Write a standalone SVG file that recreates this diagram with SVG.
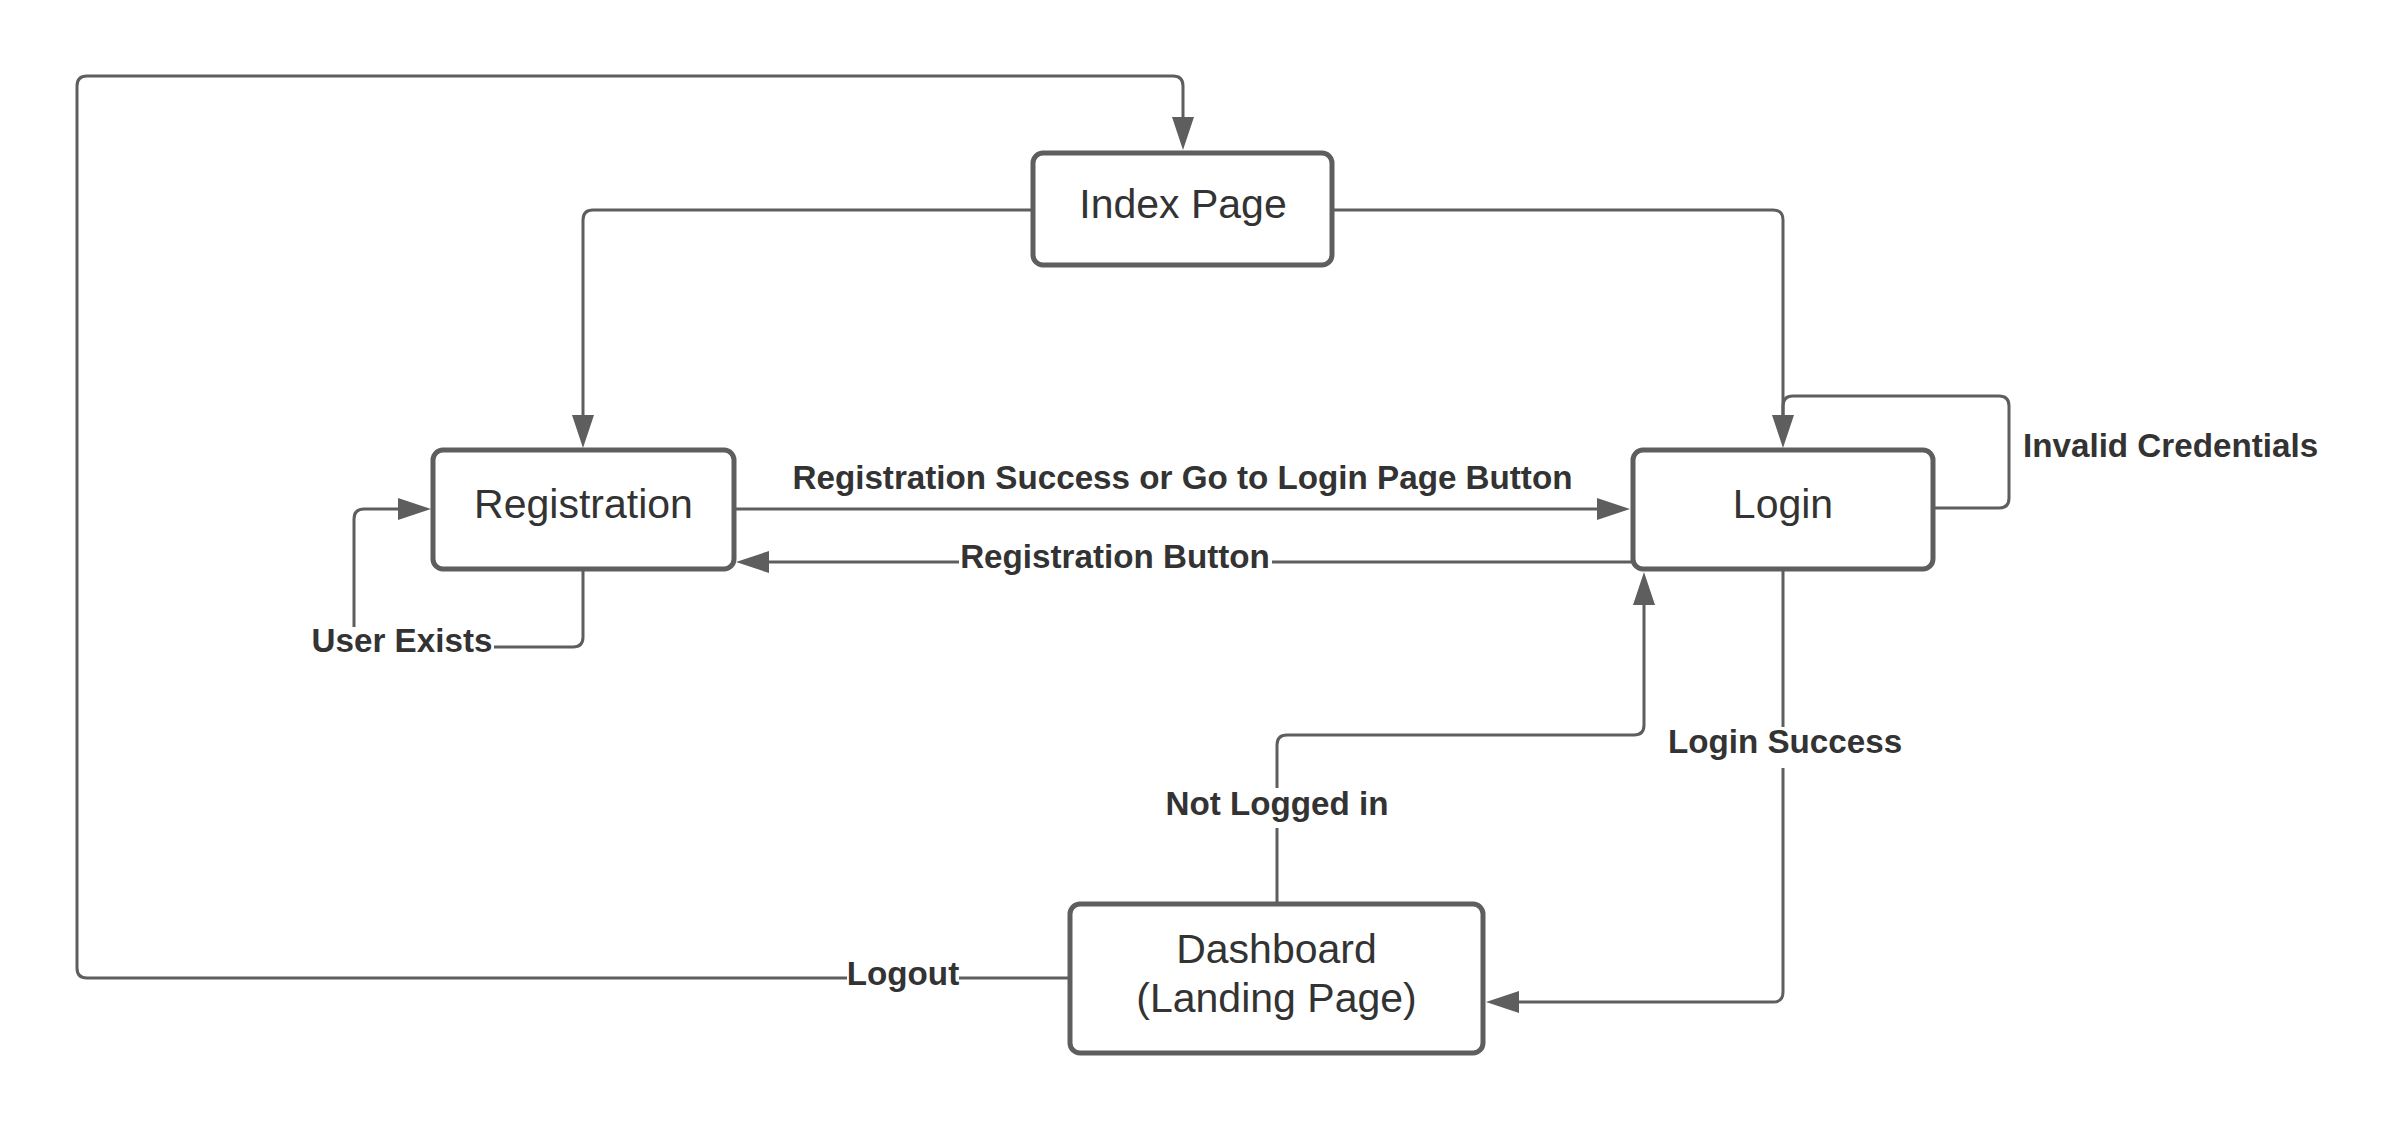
<svg xmlns="http://www.w3.org/2000/svg" width="2396" height="1131" viewBox="0 0 2396 1131">
<style>
.node rect{fill:#ffffff;stroke:#5e5e5e;stroke-width:5}
.node text{font-family:"Liberation Sans",Arial,sans-serif;font-size:41px;fill:#333333;text-anchor:middle}
.conn path{fill:none;stroke:#5e5e5e;stroke-width:3;marker-end:url(#arr)}
.conn path.noarr{marker-end:none}
.lbl{font-family:"Liberation Sans",Arial,sans-serif;font-size:33.2px;font-weight:bold;fill:#333333}
.bg{fill:#ffffff}
</style>
<defs>
<marker id="arr" markerUnits="userSpaceOnUse" markerWidth="34" markerHeight="24" viewBox="0 0 34 24" refX="2" refY="12" orient="auto">
<path d="M0,1 L33,12 L0,23 z" fill="#5e5e5e"/>
</marker>
</defs>
<rect width="2396" height="1131" fill="#ffffff"/>
<g id="connectors" class="conn">
<path d="M1070,978 H87 Q77,978 77,968 V86 Q77,76 87,76 H1173 Q1183,76 1183,86 V119"/>
<path d="M1033,210 H593 Q583,210 583,220 V417"/>
<path d="M1332,210 H1773 Q1783,210 1783,220 V417"/>
<path class="noarr" d="M1933,508 H1999 Q2009,508 2009,498 V406 Q2009,396 1999,396 H1793 Q1783,396 1783,406 V417"/>
<path d="M734,509 H1599"/>
<path d="M1633,562 H767"/>
<path d="M583,569 V637 Q583,647 573,647 H364 Q354,647 354,637 V519 Q354,509 364,509 H400"/>
<path d="M1783,569 V992 Q1783,1002 1773,1002 H1517"/>
<path d="M1277,904 V745 Q1277,735 1287,735 H1634 Q1644,735 1644,725 V603"/>
<rect class="bg" x="847" y="958" width="112" height="40"/>
<text class="lbl" x="903" y="985" text-anchor="middle">Logout</text>
<text class="lbl" x="2023" y="457">Invalid Credentials</text>
<text class="lbl" x="1182.5" y="489" text-anchor="middle">Registration Success or Go to Login Page Button</text>
<rect class="bg" x="959" y="542" width="313" height="40"/>
<text class="lbl" x="1115" y="568" text-anchor="middle">Registration Button</text>
<rect class="bg" x="310" y="627" width="184" height="40"/>
<text class="lbl" x="402" y="652" text-anchor="middle">User Exists</text>
<rect class="bg" x="1666" y="727" width="238" height="41"/>
<text class="lbl" x="1785" y="753" text-anchor="middle">Login Success</text>
<rect class="bg" x="1164" y="788" width="226" height="40"/>
<text class="lbl" x="1277" y="815" text-anchor="middle">Not Logged in</text>
</g>
<g id="index-page" class="node">
<rect x="1033" y="153" width="299" height="112" rx="10" ry="10"/>
<text x="1183" y="218">Index Page</text>
</g>
<g id="registration" class="node">
<rect x="433" y="450" width="301" height="119" rx="10" ry="10"/>
<text x="583.5" y="518">Registration</text>
</g>
<g id="login" class="node">
<rect x="1633" y="450" width="300" height="119" rx="10" ry="10"/>
<text x="1783" y="518">Login</text>
</g>
<g id="dashboard" class="node">
<rect x="1070" y="904" width="413" height="149" rx="10" ry="10"/>
<text x="1276.5" y="963">Dashboard</text>
<text x="1276.5" y="1012">(Landing Page)</text>
</g>
</svg>
